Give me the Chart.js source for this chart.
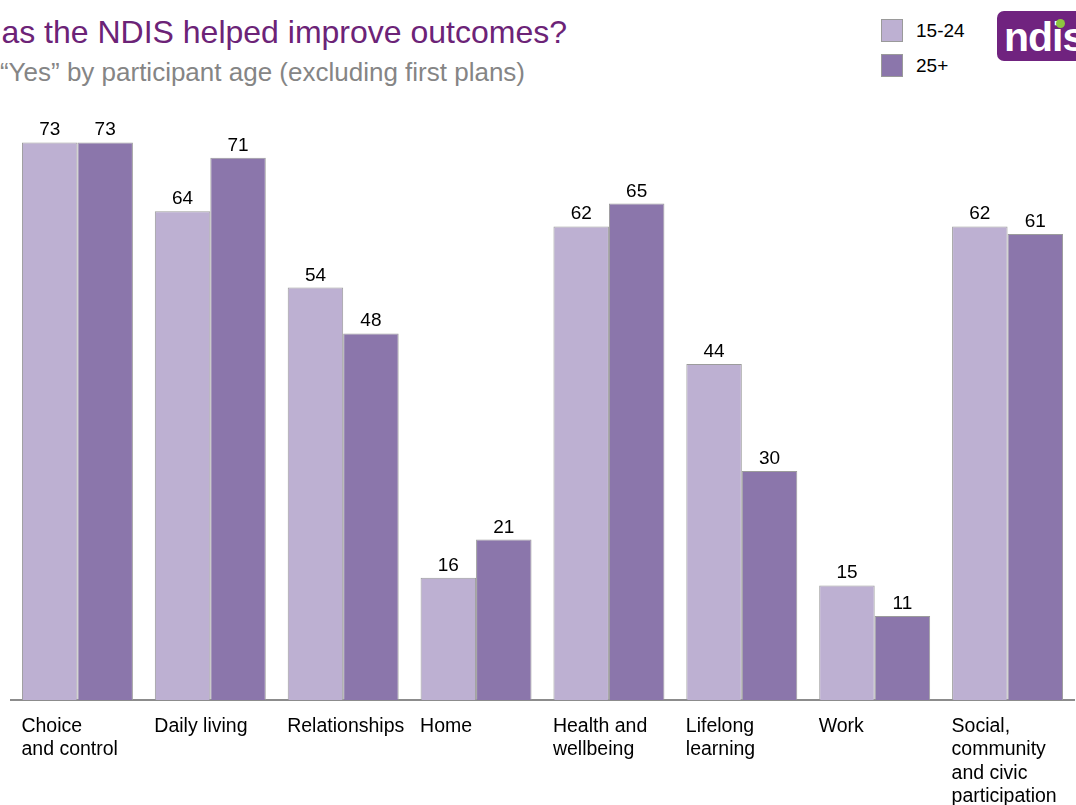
<!DOCTYPE html>
<html>
<head>
<meta charset="utf-8">
<script src="https://cdn.jsdelivr.net/npm/chart.js@4/dist/chart.umd.min.js"></script>
<style>
  html, body { margin: 0; padding: 0; background: #fff; overflow: hidden; }
  body { width: 1076px; height: 805px; position: relative; font-family: "Liberation Sans", Arial, sans-serif; }
  #wrap { position: absolute; left: 0; top: 0; width: 1076px; height: 805px; }
  .title { position: absolute; right: 509px; top: 14px; white-space: nowrap; font-size: 32px; color: #6c2377; }
  .subtitle { position: absolute; right: 551px; top: 57px; white-space: nowrap; font-size: 26px; color: #858585; }
  .leg { position: absolute; left: 881px; font-size: 19px; color: #000; white-space: nowrap; }
  .leg span { display: inline-block; width: 20px; height: 21px; border: 1px solid #9a9a9a; vertical-align: middle; margin-right: 13px; position: relative; top: -1px; }
  .logo { position: absolute; left: 997px; top: 11px; width: 100px; height: 50px; background: #70237f; border-radius: 7px;
          color: #fff; font-weight: bold; font-size: 41px; line-height: 52px; padding-left: 7px; box-sizing: border-box; letter-spacing: -1px; }
  .logo .dot { position: absolute; left: 59px; top: 8px; width: 9px; height: 9px; border-radius: 50%; background: #8dc63f; }
</style>
</head>
<body>
<div class="title">Has the NDIS helped improve outcomes?</div>
<div class="subtitle">% “Yes” by participant age (excluding first plans)</div>
<div class="leg" style="top:20px"><span style="background:#bdb0d2"></span>15-24</div>
<div class="leg" style="top:55px"><span style="background:#8b76ab"></span>25+</div>
<div class="logo">ndis<div class="dot"></div></div>
<div id="wrap"><canvas id="outcomesChart" width="1076" height="805"></canvas></div>
<script>
const categories = [
    ['Choice', 'and control'],
    ['Daily living'],
    ['Relationships'],
    ['Home'],
    ['Health and', 'wellbeing'],
    ['Lifelong', 'learning'],
    ['Work'],
    ['Social,', 'community', 'and civic', 'participation']
];
const seriesNames = ['15-24', '25+'];
const young = [73, 64, 54, 16, 62, 44, 15, 62];
const older = [73, 71, 48, 21, 65, 30, 11, 61];
const colors = ['#bdb0d2', '#8b76ab'];

const valueLabels = {
    id: 'valueLabels',
    afterDatasetsDraw(chart) {
        const ctx = chart.ctx;
        ctx.save();
        ctx.font = '19px "Liberation Sans", Arial, sans-serif';
        ctx.fillStyle = '#000';
        ctx.textAlign = 'center';
        ctx.textBaseline = 'alphabetic';
        chart.data.datasets.forEach(function (ds, i) {
            chart.getDatasetMeta(i).data.forEach(function (bar, j) {
                ctx.fillText(String(ds.data[j]), bar.x, bar.y - 7);
            });
        });
        ctx.restore();
    }
};

const ctx = document.getElementById('outcomesChart');
new Chart(ctx.getContext('2d'), {
    type: 'bar',
    data: {
        labels: categories,
        datasets: [
            { label: seriesNames[0], data: young, backgroundColor: colors[0], borderColor: '#9c9c9c', borderWidth: 1 },
            { label: seriesNames[1], data: older, backgroundColor: colors[1], borderColor: '#9c9c9c', borderWidth: 1 }
        ]
    },
    options: {
        responsive: false,
        animation: false,
        layout: { padding: { left: 11, right: 2, top: 89, bottom: 0 } },
        datasets: { bar: { categoryPercentage: 0.835, barPercentage: 1 } },
        scales: {
            x: {
                grid: { display: false, drawTicks: false },
                border: { display: true, color: '#8c8c8c', width: 2 },
                afterFit: function (scale) {
                    scale.height = 105;
                    scale.paddingLeft = 0;
                    scale.paddingRight = 0;
                },
                ticks: {
                    color: '#000',
                    font: { size: 19.5, family: '"Liberation Sans", Arial, sans-serif', lineHeight: 1.2 },
                    align: 'start',
                    labelOffset: -56,
                    padding: 15,
                    maxRotation: 0,
                    autoSkip: false
                }
            },
            y: { display: false, min: 0, max: 80 }
        },
        plugins: {
            legend: { display: false },
            tooltip: { enabled: false }
        }
    },
    plugins: [valueLabels]
});
</script>
</body>
</html>
